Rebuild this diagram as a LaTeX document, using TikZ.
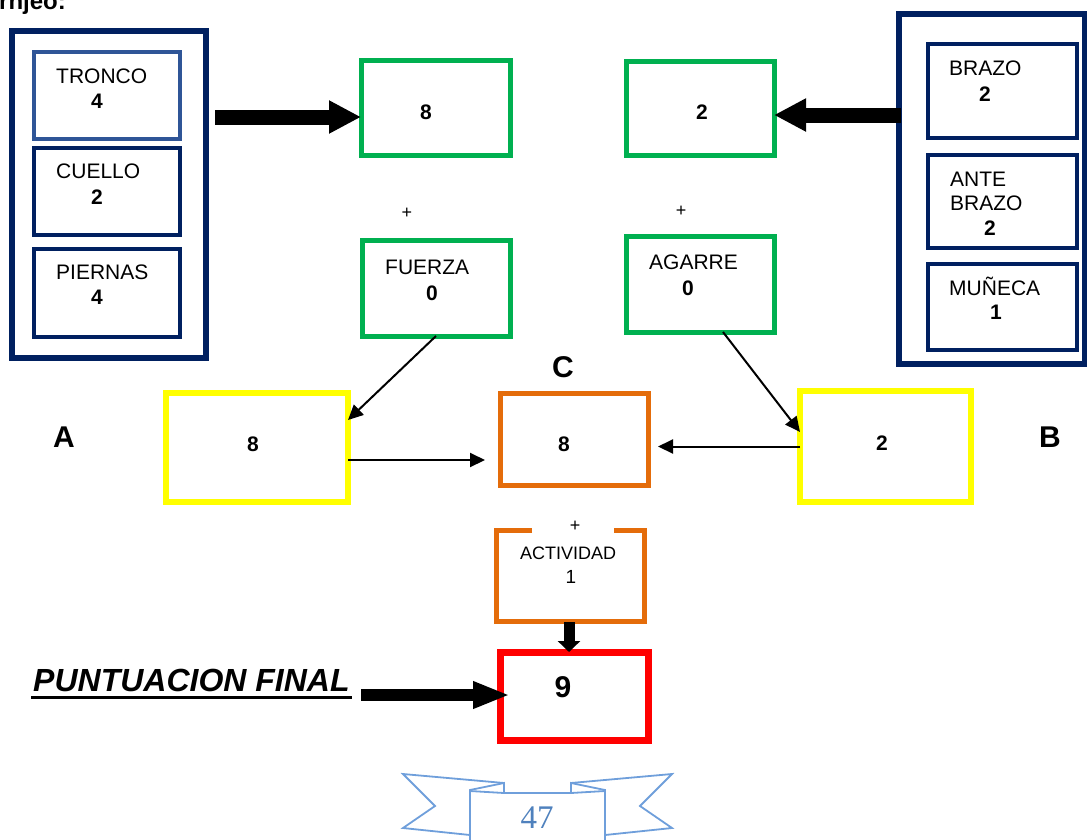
\documentclass[tikz,border=0pt]{standalone}
\usepackage{fontspec}
\setmainfont{Liberation Sans}
\newfontfamily\pgnumfont{Liberation Serif}
\usetikzlibrary{arrows.meta}
\definecolor{navy}{HTML}{002060}
\definecolor{midblue}{HTML}{2F5597}
\definecolor{grn}{HTML}{00B050}
\definecolor{yel}{HTML}{FFFF00}
\definecolor{org}{HTML}{E46C0A}
\definecolor{rd}{HTML}{FF0000}
\definecolor{rib}{HTML}{6F9FDB}
\definecolor{pgblue}{HTML}{4F81BD}
\begin{document}
\begin{tikzpicture}[x=1pt,y=-1pt,
  bx/.style={draw, inner sep=0pt, outer sep=0pt},
  outerbox/.style={bx, draw=navy, line width=6pt},
  innerbox/.style={bx, draw=navy, line width=4pt},
  greenbox/.style={bx, draw=grn, line width=5pt},
  yellowbox/.style={bx, draw=yel, line width=6pt},
  orangebox/.style={bx, draw=org, line width=5pt},
  redbox/.style={bx, draw=rd, line width=7pt},
  lbl/.style={inner sep=0pt, font=\fontsize{21}{24}\selectfont, text height=15pt, text depth=0pt},
  num/.style={inner sep=0pt, font=\bfseries\fontsize{21}{24}\selectfont, text height=15pt, text depth=0pt},
  big/.style={inner sep=0pt, font=\bfseries\fontsize{30}{34}\selectfont, text height=21.5pt, text depth=0pt},
  plus/.style={inner sep=0pt, font=\fontsize{18}{21}\selectfont},
  bigarrow/.style={line width=15pt, -{Triangle[length=32pt,width=31pt]}},
  midarrow/.style={line width=12pt, -{Triangle[length=37pt,width=25pt]}},
  downarrow/.style={line width=11pt, -{Triangle[length=11pt,width=22pt]}},
  thinarrow/.style={line width=2pt, -{Triangle[length=15pt,width=14pt]}},
  ribbon/.style={draw=rib, line width=1.8pt, line join=miter}
]
\useasboundingbox (0,0) rectangle (1087,839);

% top cropped text
\node[inner sep=0pt, anchor=base west, font=\bfseries\fontsize{24}{28}\selectfont] (top) at (-1,9) {rnjeo:};

% left group
\node[outerbox, minimum width=194pt, minimum height=327pt] (outerL) at (109,194.5) {};
\node[innerbox, draw=midblue, minimum width=146pt, minimum height=87pt] (tr) at (107,95.5) {};
\node[innerbox, minimum width=146pt, minimum height=87pt] (cu) at (107,191.5) {};
\node[innerbox, minimum width=146pt, minimum height=88pt] (pi) at (107,293) {};
\node[lbl, anchor=west] (trT) at (56,76) {TRONCO};
\node[num] (trN) at (97,101) {4};
\node[lbl, anchor=west] (cuT) at (56,171) {CUELLO};
\node[num] (cuN) at (97,197) {2};
\node[lbl, anchor=west] (piT) at (56,272) {PIERNAS};
\node[num] (piN) at (97,297) {4};

% right group
\node[outerbox, minimum width=186pt, minimum height=350pt] (outerR) at (992,189) {};
\node[innerbox, minimum width=149pt, minimum height=94pt] (br) at (1002.5,91) {};
\node[innerbox, minimum width=149pt, minimum height=93pt] (ab) at (1002.5,201.5) {};
\node[innerbox, minimum width=149pt, minimum height=86pt] (mu) at (1002.5,307) {};
\node[lbl, anchor=west] (brT) at (949,68) {BRAZO};
\node[num] (brN) at (985,94) {2};
\node[lbl, anchor=west] (abT1) at (950,179) {ANTE};
\node[lbl, anchor=west] (abT2) at (950,203) {BRAZO};
\node[num] (abN) at (990,228) {2};
\node[lbl, anchor=west] (muT) at (949,288) {MUÑECA};
\node[num] (muN) at (996,312) {1};

% green boxes
\node[greenbox, minimum width=149pt, minimum height=95pt] (g1) at (435.5,107.5) {};
\node[greenbox, minimum width=148pt, minimum height=94pt] (g2) at (700,108) {};
\node[greenbox, minimum width=148pt, minimum height=96pt] (fu) at (436,288) {};
\node[greenbox, minimum width=148pt, minimum height=96pt] (ag) at (700,284) {};
\node[num] (g1N) at (426,112) {8};
\node[num] (g2N) at (702,112) {2};
\node[plus] (p1) at (407,213) {+};
\node[plus] (p2) at (681,211) {+};
\node[lbl, anchor=west] (fuT) at (385,267) {FUERZA};
\node[num] (fuN) at (432,293) {0};
\node[lbl, anchor=west] (agT) at (649,262) {AGARRE};
\node[num] (agN) at (688,288) {0};

% middle row
\node[yellowbox, minimum width=182pt, minimum height=109pt] (yl) at (257,447.5) {};
\node[orangebox, minimum width=148pt, minimum height=92pt] (cb) at (574,439) {};
\node[yellowbox, minimum width=171pt, minimum height=111pt] (yr) at (885.5,446.5) {};
\node[num] (ylN) at (253,444) {8};
\node[num] (cbN) at (564,444) {8};
\node[num] (yrN) at (882,443) {2};
\node[big] (lC) at (563,367) {C};
\node[big] (lA) at (64,437) {A};
\node[big] (lB) at (1050,437) {B};

% actividad
\node[inner sep=0pt, outer sep=0pt, minimum width=148pt, minimum height=91pt] (act) at (570,575.5) {};
\draw[draw=org, line width=5pt, line join=miter]
  ([xshift=36pt]act.north west) -- (act.north west) -- (act.south west)
  -- (act.south east) -- (act.north east) -- ([xshift=-30pt]act.north east);
\node[plus] (p3) at (575,526) {+};
\node[inner sep=0pt, font=\fontsize{18}{21}\selectfont, text height=13pt, text depth=0pt] (actT) at (568,553) {ACTIVIDAD};
\node[inner sep=0pt, font=\fontsize{19}{22}\selectfont, text height=13.6pt, text depth=0pt] (actN) at (571,577) {1};

% final
\node[redbox, minimum width=148pt, minimum height=88pt] (red) at (574,696) {};
\node[big] (redN) at (563,687) {9};
\node[inner sep=0pt, anchor=west, font=\bfseries\itshape\fontsize{32}{36}\selectfont, text height=22pt, text depth=0pt] (pf) at (33,680) {PUNTUACION FINAL};
\draw[line width=3pt] ([yshift=-6.5pt,xshift=-2pt]pf.south west) -- ([yshift=-6.5pt,xshift=2pt]pf.south east);

% thick arrows
\coordinate (la) at (215,117);
\draw[bigarrow] (la) -- (la -| g1.west);
\coordinate (ra) at (901,115);
\draw[bigarrow] (ra) -- (ra -| g2.east);
\coordinate (pa) at (361,695);
\draw[midarrow, shorten >=-10pt] (pa) -- (pa -| red.west);
\coordinate (da) at (569,622);
\draw[downarrow] (da) -- (da |- red.north);

% thin arrows
\draw[thinarrow] (fu.south) -- ([yshift=27.5pt]yl.east);
\coordinate (ylo) at ([yshift=-12.5pt]yl.east);
\draw[thinarrow, shorten >=15pt] (ylo) -- (ylo -| cb.west);
\draw[thinarrow] ([xshift=23pt]ag.south) -- ([yshift=14.5pt]yr.west);
\draw[thinarrow, shorten >=10pt] (yr.west) -- (yr.west -| cb.east);

% ribbon page marker
\draw[ribbon] (470,845) -- (470,790) -- (504,783) -- (504,793);
\draw[ribbon] (605,845) -- (605,790) -- (571,783) -- (571,793);
\draw[ribbon] (470,791) -- (504,793) -- (571,793) -- (605,791);
\draw[ribbon] (504,783) -- (403,774) -- (435,806) -- (403,828) -- (470,835);
\draw[ribbon] (571,783) -- (672,774) -- (640,806) -- (672,828) -- (605,835);
\node[inner sep=0pt, text=pgblue, font=\pgnumfont\fontsize{33}{38}\selectfont] (pg) at (537,818) {47};
\end{tikzpicture}
\end{document}
